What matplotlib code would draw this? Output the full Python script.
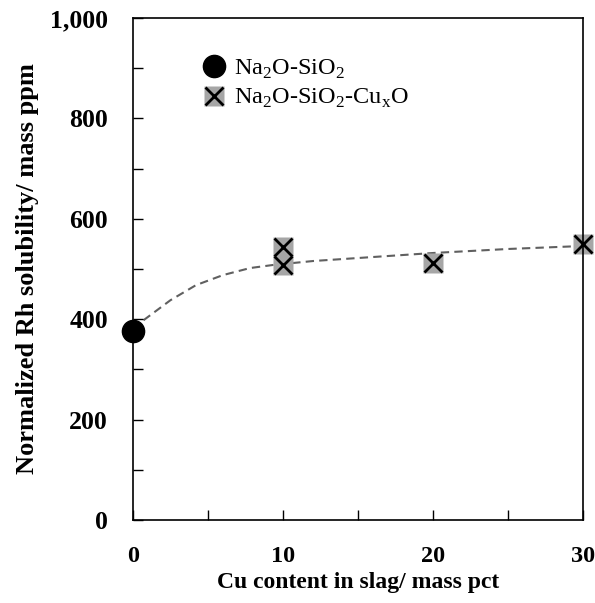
import matplotlib.pyplot as plt
from matplotlib.ticker import FuncFormatter, MultipleLocator

# measured points
na_x = [0]
na_y = [376]
cu_x = [10, 10, 20, 30]
cu_y = [544, 508, 513, 550]

# dashed trend line
fit_x = [0.7, 2.5, 4.2, 6.0, 7.8, 9.3, 12, 15, 20, 25, 30]
fit_y = [398, 438, 468, 488, 502, 508, 516, 522, 532, 540, 546]

plt.rcParams['font.family'] = ['Liberation Serif', 'DejaVu Serif']
plt.rcParams['mathtext.fontset'] = 'custom'
plt.rcParams['mathtext.rm'] = 'Liberation Serif'

fig = plt.figure(figsize=(5.95, 6.03), dpi=100)
ax = fig.add_axes([0.2235, 0.1376, 0.7565, 0.8324])

ax.plot(fit_x, fit_y, ls=(0, (4, 2.5)), color='#606060', lw=1.5, zorder=1)
circ, = ax.plot(na_x, na_y, 'o', color='black', ms=16, zorder=3, clip_on=False)
sq, = ax.plot(cu_x, cu_y, 's', color='#a6a6a6', ms=14, mec='none', zorder=2,
              clip_on=False)
xx, = ax.plot(cu_x, cu_y, 'x', color='black', ms=13, mew=2, zorder=3,
              clip_on=False)

ax.set_xlim(0, 30)
ax.set_ylim(0, 1000)
ax.xaxis.set_major_locator(MultipleLocator(10))
ax.xaxis.set_minor_locator(MultipleLocator(5))
ax.yaxis.set_major_locator(MultipleLocator(200))
ax.yaxis.set_minor_locator(MultipleLocator(100))
ax.yaxis.set_major_formatter(FuncFormatter(lambda v, p: f'{int(v):,}'))
ax.tick_params(which='both', direction='in', top=False, right=False)
ax.tick_params(which='both', length=7, width=1)
ax.tick_params(axis='x', pad=19)
ax.tick_params(axis='y', pad=18)
for lab in ax.get_xticklabels():
    lab.set_fontsize(17.5)
    lab.set_fontweight('bold')
for lab in ax.get_yticklabels():
    lab.set_fontsize(18.5)
    lab.set_fontweight('bold')
for s in ax.spines.values():
    s.set_linewidth(1.2)

ax.set_xlabel('Cu content in slag/ mass pct', fontsize=17, fontweight='bold', labelpad=3)
ax.set_ylabel('Normalized Rh solubility/ mass ppm', fontsize=19, fontweight='bold', labelpad=8)

ax.legend([circ, (sq, xx)],
          [r'Na$_2$O-SiO$_2$', r'Na$_2$O-SiO$_2$-Cu$_\mathrm{x}$O'],
          loc='upper left', bbox_to_anchor=(0.125, 0.94), frameon=False,
          fontsize=17.5, handletextpad=0.25, labelspacing=0.25, handlelength=1.2,
          borderaxespad=0)

fig.savefig('out.png', dpi=100)
